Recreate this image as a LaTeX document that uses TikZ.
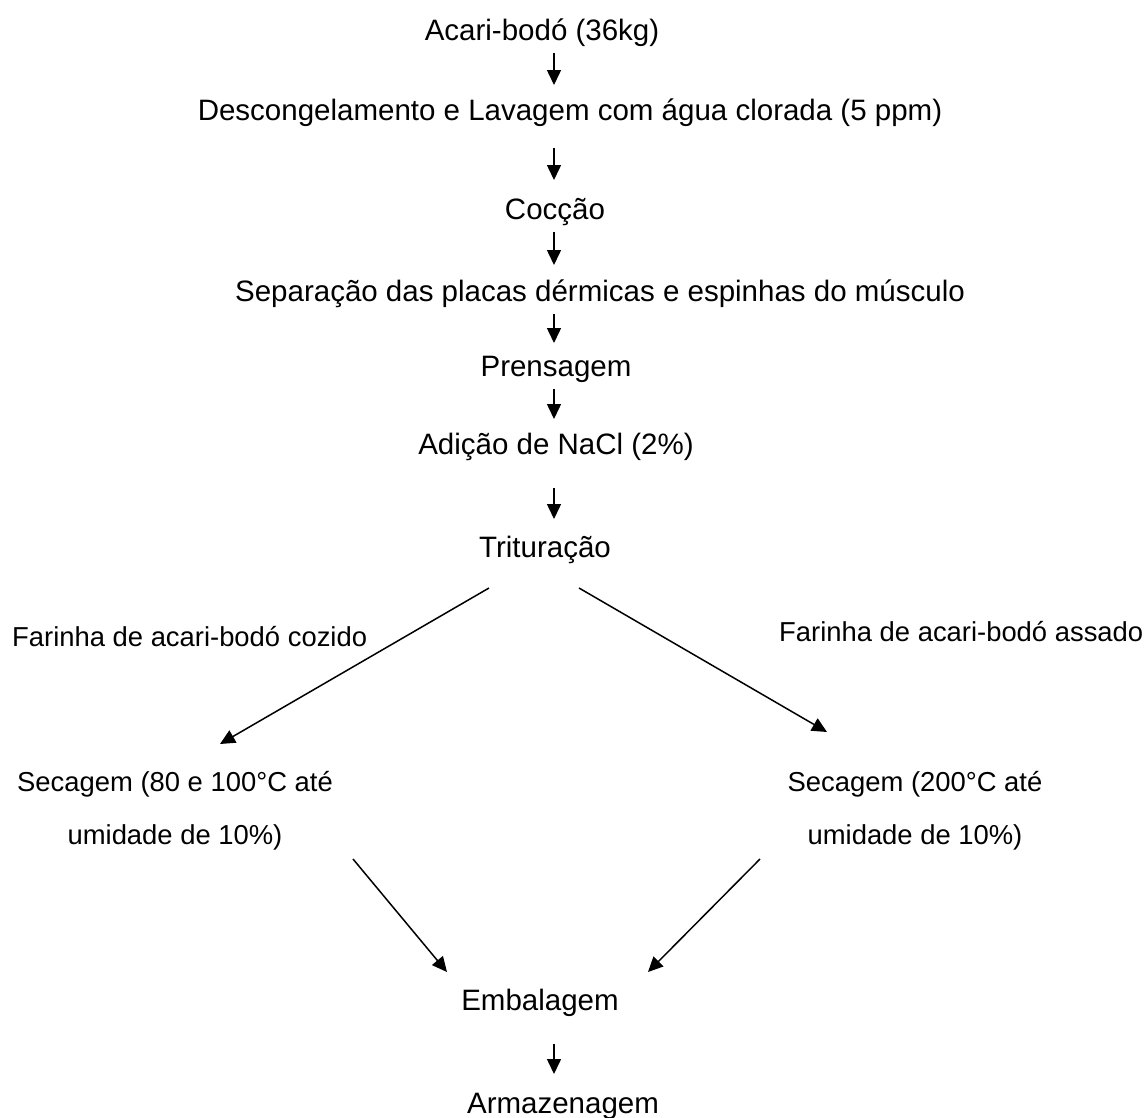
\documentclass[tikz,border=0pt]{standalone}
\usepackage{fontspec}
\setmainfont{Liberation Sans}
\usetikzlibrary{arrows.meta,calc}
\tikzset{
  etapa/.style={anchor=base,inner sep=0pt,outer sep=0pt,text height=21pt,text depth=0pt,font=\fontsize{29.5pt}{35pt}\selectfont},
  rotulo/.style={anchor=base west,inner sep=0pt,font=\fontsize{27.4pt}{33pt}\selectfont},
  secagem/.style={anchor=base,inner sep=0pt,outer sep=0pt,align=center,font=\fontsize{27.4pt}{53pt}\selectfont},
  seta/.style={-{Triangle[width=14pt,length=15pt]},line width=1.5pt,shorten <=13pt,shorten >=14pt}
}
\begin{document}
\begin{tikzpicture}[x=1pt,y=-1pt]
    \useasboundingbox (0,0) rectangle (1148,1117);
    \coordinate (eixo) at (554,0);
    \node[etapa] (acari) at (542,40) {Acari-bodó (36kg)};
    \node[etapa] (desc) at (570,120) {Descongelamento e Lavagem com água clorada (5 ppm)};
    \node[etapa] (coccao) at (555,219) {Cocção};
    \node[etapa] (separa) at (600,301) {Separação das placas dérmicas e espinhas do músculo};
    \node[etapa] (prensa) at (556,376) {Prensagem};
    \node[etapa] (nacl) at (556,454) {Adição de NaCl (2\%)};
    \node[etapa] (trit) at (545,557) {Trituração};
    \node[rotulo] (cozido) at (12,646) {Farinha de acari-bodó cozido};
    \node[rotulo] (assado) at (779,641) {Farinha de acari-bodó assado};
    \node[secagem] (secE) at (175,844) {Secagem (80 e 100°C até\\umidade de 10\%)};
    \node[secagem] (secD) at (915,844) {Secagem (200°C até\\umidade de 10\%)};
    \node[etapa] (emb) at (540,1010) {Embalagem};
    \node[etapa] (armaz) at (563,1113) {Armazenagem};

    \draw[seta] (acari.south -| eixo) -- (desc.north -| eixo);
    \draw[seta,shorten <=28pt,shorten >=18pt] (desc.south -| eixo) -- (coccao.north -| eixo);
    \draw[seta,shorten >=15pt] (coccao.south -| eixo) -- (separa.north -| eixo);
    \draw[seta,shorten >=12pt] (separa.south -| eixo) -- (prensa.north -| eixo);
    \draw[seta] (prensa.south -| eixo) -- (nacl.north -| eixo);
    \draw[seta,shorten <=34pt,shorten >=17pt] (nacl.south -| eixo) -- (trit.north -| eixo);
    \draw[seta,shorten <=0pt,shorten >=0pt] ($(trit.south)+(-56,31)$) -- ($(secE.base)+(45,-100)$);
    \draw[seta,shorten <=0pt,shorten >=0pt] ($(trit.south)+(34,31)$) -- ($(secD.base)+(-88,-112)$);
    \draw[seta,shorten <=0pt,shorten >=0pt] ($(secE.base)+(178,15)$) -- ($(emb.north)+(-93,-17)$);
    \draw[seta,shorten <=0pt,shorten >=0pt] ($(secD.base)+(-155,15)$) -- ($(emb.north)+(108,-17)$);
    \draw[seta,shorten <=34pt,shorten >=18pt] (emb.south -| eixo) -- (armaz.north -| eixo);
  \end{tikzpicture}
\end{document}
